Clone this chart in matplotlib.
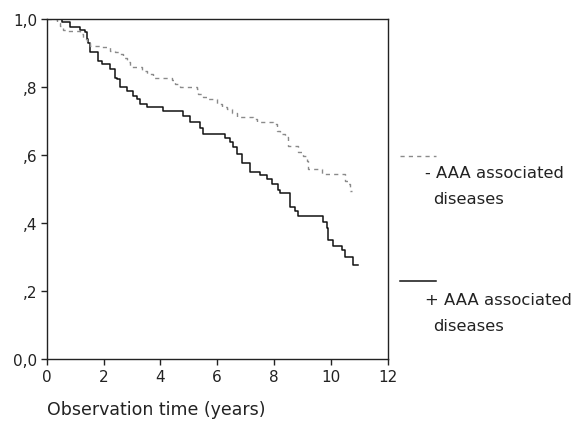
import numpy as np
import matplotlib
matplotlib.use("Agg")
from matplotlib import pyplot as plt
from matplotlib.lines import Line2D

plt.rcParams['font.family'] = ['DejaVu Sans']

#-------------------------------------------------------------------
# data (Kaplan-Meier steps)
minus_t = [0, 0.35, 0.47, 0.59, 0.70, 1.17, 1.29, 1.41, 1.52, 1.93,
           2.23, 2.40, 2.58, 2.70, 2.81, 2.93, 3.34, 3.52, 3.75, 4.40,
           4.52, 4.69, 5.28, 5.34, 5.51, 5.69, 5.98, 6.16, 6.33, 6.51,
           6.68, 7.27, 7.39, 7.97, 8.09, 8.21, 8.38, 8.50, 8.85, 9.03,
           9.15, 9.21, 9.68, 10.50, 10.61, 10.67, 10.73]
minus_s = [1.0, 0.990, 0.980, 0.969, 0.964, 0.956, 0.941, 0.931, 0.922, 0.917,
           0.907, 0.902, 0.897, 0.887, 0.873, 0.858, 0.848, 0.838, 0.828, 0.822,
           0.809, 0.799, 0.794, 0.779, 0.770, 0.765, 0.750, 0.740, 0.735, 0.725,
           0.711, 0.706, 0.696, 0.691, 0.672, 0.662, 0.652, 0.627, 0.608, 0.598,
           0.583, 0.559, 0.544, 0.524, 0.515, 0.495, 0.495]

plus_t = [0, 0.53, 0.82, 1.17, 1.35, 1.41, 1.46, 1.52, 1.82, 1.93,
          2.23, 2.40, 2.46, 2.58, 2.81, 3.05, 3.16, 3.28, 3.52, 4.10,
          4.81, 5.04, 5.39, 5.51, 6.27, 6.45, 6.57, 6.68, 6.86, 7.15,
          7.51, 7.74, 7.92, 8.15, 8.21, 8.56, 8.74, 8.85, 9.73, 9.85,
          9.91, 10.09, 10.38, 10.50, 10.79, 10.97]
plus_s = [1.0, 0.992, 0.978, 0.969, 0.961, 0.941, 0.931, 0.902, 0.877, 0.868,
          0.853, 0.828, 0.824, 0.799, 0.789, 0.775, 0.765, 0.750, 0.740, 0.730,
          0.716, 0.696, 0.681, 0.662, 0.649, 0.637, 0.623, 0.603, 0.578, 0.551,
          0.541, 0.529, 0.515, 0.498, 0.488, 0.446, 0.436, 0.420, 0.402, 0.384,
          0.351, 0.333, 0.322, 0.299, 0.276, 0.276]

xticks = [0, 2, 4, 6, 8, 10, 12]
yticks = [0.0, 0.2, 0.4, 0.6, 0.8, 1.0]
ylabels = ['0,0', ',2', ',4', ',6', ',8', '1,0']

#-------------------------------------------------------------------
# Plot
fig = plt.figure(figsize=(5.79, 4.27), dpi=100)
ax = fig.add_axes([0.0807, 0.1569, 0.589, 0.796])

ax.step(plus_t, plus_s, where='post', color='#111111', lw=1.1)
ax.step(minus_t, minus_s, where='post', color='#8a8a8a', lw=1.0,
        linestyle=(0, (3, 3)))

ax.set_xlim(0, 12)
ax.set_ylim(0, 1)
ax.set_xticks(xticks)
ax.set_yticks(yticks)
ax.set_yticklabels(ylabels)
ax.tick_params(axis='both', labelsize=11, direction='out', length=4,
               width=1, colors='#222222', pad=3)
for s in ax.spines.values():
    s.set_linewidth(1.0)
    s.set_color('#222222')

fig.text(47/579, 1 - 410/427, 'Observation time (years)', fontsize=12.5,
         ha='left', va='center', color='#222222')

# legend drawn by hand, like the original
fig.add_artist(Line2D([400/579, 436/579], [1 - 157/427, 1 - 157/427],
                      color='#8a8a8a', lw=1.0, linestyle=(0, (3, 3))))
fig.text(425/579, 1 - 174/427, '- AAA associated', fontsize=11.8,
         ha='left', va='center', color='#222222')
fig.text(433/579, 1 - 200/427, 'diseases', fontsize=11.8,
         ha='left', va='center', color='#222222')

fig.add_artist(Line2D([400/579, 436/579], [1 - 282/427, 1 - 282/427],
                      color='#111111', lw=1.1))
fig.text(425/579, 1 - 301/427, '+ AAA associated', fontsize=11.8,
         ha='left', va='center', color='#222222')
fig.text(433/579, 1 - 327/427, 'diseases', fontsize=11.8,
         ha='left', va='center', color='#222222')

plt.savefig('out.png', dpi=100)
